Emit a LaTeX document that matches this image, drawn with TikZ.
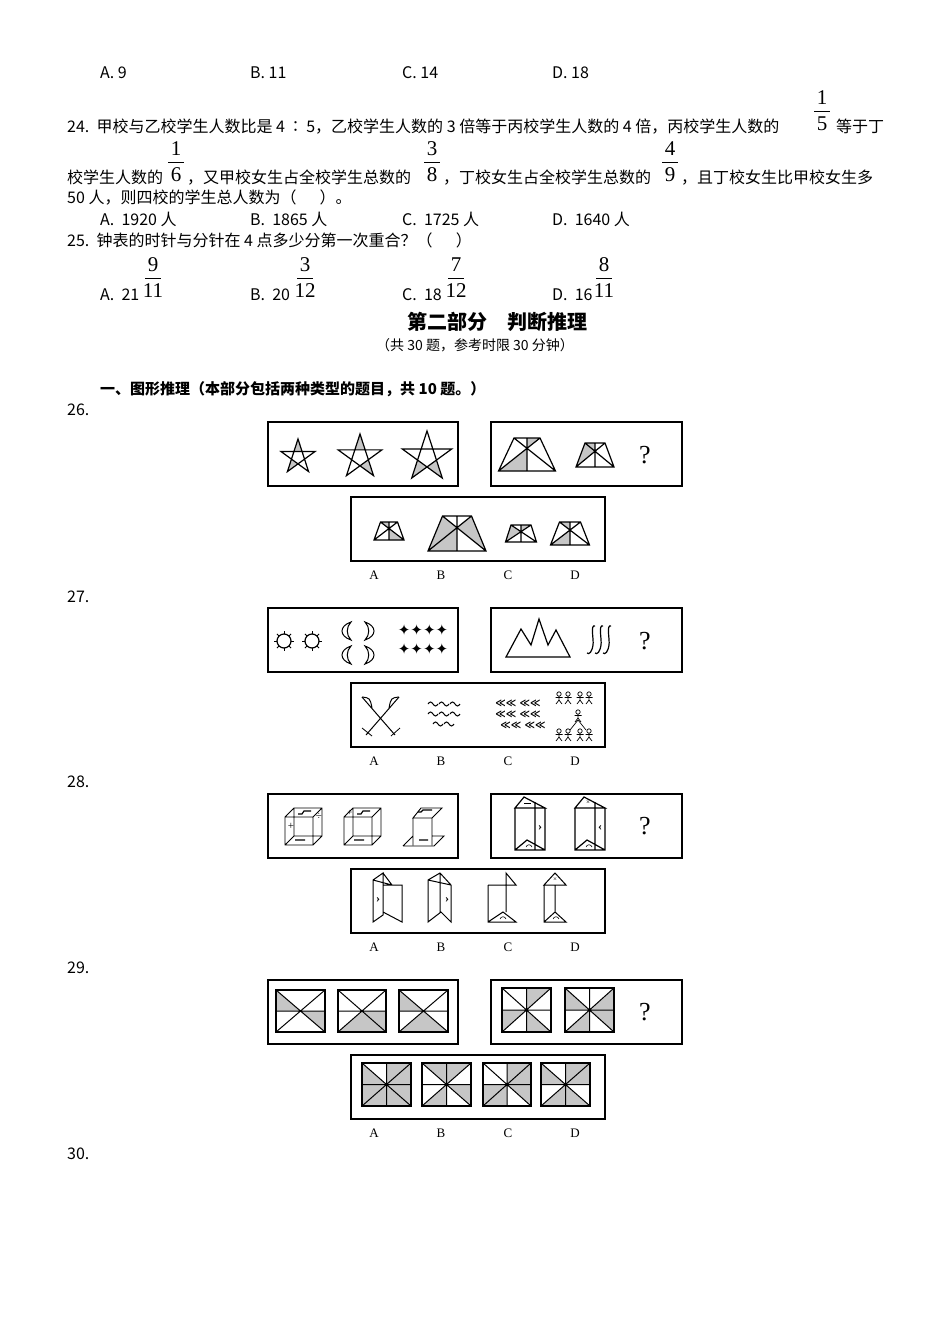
\documentclass[tikz,border=0pt]{standalone}
\usepackage{fontspec}
\usetikzlibrary{calc}
\setmainfont{Liberation Serif}
\newfontfamily\cjk{Noto Sans CJK SC}
\newfontfamily\dv{DejaVu Sans}
\begin{document}
\begin{tikzpicture}[x=1pt,y=-1pt,
 txt/.style={anchor=base west,inner sep=0,font=\cjk\fontsize{16}{17}\selectfont},
 fr/.style={inner sep=0,font=\fontsize{21}{22}\selectfont},
 box/.style={draw,line width=1.1pt},
 fig/.style={line width=1.2pt,line join=miter},
 shd/.style={fill=gray!45},
 lab/.style={inner sep=0,font=\fontsize{13}{14}\selectfont}]
\fill[white] (0,0) rectangle (950,1344);
\useasboundingbox (0,0) rectangle (950,1344);
\newcommand\frc[4]{\node[fr] at (#1,#2-29) {#3};\draw[line width=0.7pt] (#1-8,#2-16)--(#1+8,#2-16);\node[fr] at (#1,#2-3) {#4};}
\newcommand\arcm[2]{\draw[line width=0.6pt] (#1-3,#2+1) .. controls (#1-2,#2-2) and (#1+2,#2-2) .. (#1+3,#2+1);}
% header options
\node[txt] (a0) at (100,78) {A.\ 9};
\node[txt] (b0) at (250,78) {B.\ 11};
\node[txt] (c0) at (402,78) {C.\ 14};
\node[txt] (d0) at (552,78) {D.\ 18};
% Q24
\node[txt] (q24a) at (67,132) {24.\ \ 甲校与乙校学生人数比是\ 4\,∶\,5，乙校学生人数的\ 3\ 倍等于丙校学生人数的\ 4\ 倍，丙校学生人数的};
\frc{822}{127}{1}{5}
\node[txt] (q24b) at (836,132) {等于丁};
\node[txt] (q24c) at (67,183) {校学生人数的};
\frc{176}{178}{1}{6}
\node[txt] (q24d) at (187,183) {，又甲校女生占全校学生总数的};
\frc{432}{178}{3}{8}
\node[txt] (q24e) at (443,183) {，丁校女生占全校学生总数的};
\frc{670}{178}{4}{9}
\node[txt] (q24f) at (681,183) {，且丁校女生比甲校女生多};
\node[txt] (q24g) at (67,203) {50 人，则四校的学生总人数为（\quad\ \ ）。};
\node[txt] (a24) at (100,225) {A.\ \ 1920 人};
\node[txt] (b24) at (250,225) {B.\ \ 1865 人};
\node[txt] (c24) at (402,225) {C.\ \ 1725 人};
\node[txt] (d24) at (552,225) {D.\ \ 1640 人};
\node[txt] (q25) at (67,246) {25.\ \ 钟表的时针与分针在 4 点多少分第一次重合？（\quad\ \ ）};
\node[txt] (a25) at (100,300) {A.\ \ 21};
\frc{153}{294}{9}{11}
\node[txt] (b25) at (250,300) {B.\ \ 20};
\frc{305}{294}{3}{12}
\node[txt] (c25) at (402,300) {C.\ \ 18};
\frc{456}{294}{7}{12}
\node[txt] (d25) at (552,300) {D.\ \ 16};
\frc{604}{294}{8}{11}
\node[inner sep=0,font=\cjk\bfseries\fontsize{20}{22}\selectfont] (title) at (497,322) {第二部分\quad 判断推理};
\node[inner sep=0,font=\cjk\fontsize{14}{15}\selectfont] (sub) at (475,345) {（共 30 题，参考时限 30 分钟）};
\node[txt,font=\cjk\bfseries\fontsize{15}{16}\selectfont] (sec) at (100,394) {一、图形推理（本部分包括两种类型的题目，共 10 题。）};
\foreach \n/\y in {26/415,27/602,28/787,29/973,30/1159} \node[txt] (q\n) at (67,\y) {\n.};
% boxes and labels
\foreach \d [count=\i] in {0,186,372,558}{
 \draw[box] (268,422+\d) rectangle (458,486+\d);
 \draw[box] (491,422+\d) rectangle (682,486+\d);
 \draw[box] (351,497+\d) rectangle (605,561+\d);
 \foreach \L/\x in {A/374,B/441,C/508,D/575} \node[lab] (l\i\L) at (\x,575+\d) {\L};
}
\foreach \y in {455,641,826,1012} \node[inner sep=0,font=\fontsize{26}{28}\selectfont] at (645,\y) {?};
% ---- Q26
\newcommand\starfig[4]{\begin{scope}[shift={(#1,#2)}]
 \foreach \k in {#4}{\fill[shd] ({-90+72*\k}:#3) -- ({-90+72*\k+36}:0.382*#3) -- ({-90+72*\k-36}:0.382*#3) -- cycle;}
 \draw[fig] (-90:#3)--(54:#3)--(198:#3)--(-18:#3)--(126:#3)--cycle;\end{scope}}
\starfig{298}{457}{18}{0,3}
\starfig{360}{457}{23}{0,2}
\starfig{427}{457}{26}{3,2}
\newcommand\trapfig[6]{\begin{scope}[shift={(#1,#2)}]
 \coordinate (bl) at (-#3/2,0);\coordinate (br) at (#3/2,0);
 \coordinate (tl) at (-#4/2,-#5);\coordinate (tr) at (#4/2,-#5);
 \coordinate (tm) at (0,-#5);\coordinate (bm) at (0,0);
 \coordinate (xx) at (0,{-#5*#3/(#3+#4)});
 \fill[shd] #6;
 \draw[fig] (bl)--(br)--(tr)--(tl)--cycle (bl)--(tr) (br)--(tl) (tm)--(bm);\end{scope}}
\trapfig{527}{471}{57}{26}{33}{(bl)--(xx)--(bm)--cycle (tm)--(xx)--(tr)--cycle}
\trapfig{595}{467}{38}{20}{24}{(bl)--(xx)--(tl)--cycle (tm)--(xx)--(tl)--cycle}
\trapfig{389}{540}{30}{17}{18}{(tm)--(xx)--(tl)--cycle (br)--(xx)--(bm)--cycle}
\trapfig{457}{551}{58}{29}{35}{(bl)--(xx)--(tl)--cycle (bl)--(xx)--(bm)--cycle (br)--(xx)--(tr)--cycle}
\trapfig{521}{542}{31}{20}{17}{(bl)--(xx)--(tl)--cycle (tm)--(xx)--(tr)--cycle}
\trapfig{570}{545}{39}{21}{23}{(bl)--(xx)--(bm)--cycle (tm)--(xx)--(tl)--cycle}
% ---- Q27
\foreach \cx in {284,312}{\draw[fig] (\cx,641) circle (7);
 \foreach \a in {0,45,...,315} \draw[line width=0.8pt] ($(\cx,641)+(\a:7)$)--($(\cx,641)+(\a:10)$);}
\newcommand\cres[3]{\draw[line width=1pt,fill=white] (#1,#2-9) .. controls (#1-#3*12,#2-5) and (#1-#3*12,#2+5) .. (#1,#2+9) .. controls (#1-#3*5,#2+4) and (#1-#3*5,#2-4) .. cycle;}
\cres{351}{631}{1}\cres{365}{631}{-1}\cres{351}{655}{1}\cres{365}{655}{-1}
\node[inner sep=0,font=\dv\fontsize{15}{15}\selectfont] at (423,630) {✦✦✦✦};
\node[inner sep=0,font=\dv\fontsize{15}{15}\selectfont] at (423,649) {✦✦✦✦};
\draw[fig] (506,657)--(521,629)--(531,645)--(539,619)--(548,645)--(556,630)--(570,657)--cycle;
\foreach \x in {590,598,606} \draw[line width=1.2pt] (\x+5,626) .. controls (\x,624) and (\x+4,640) .. (\x+3,645) .. controls (\x+2,652) and (\x-1,655) .. (\x-3,653);
% swords
\draw[line width=1pt] (362,697)--(395,735) (399,697)--(366,735);
\draw[line width=1pt] (362,697)..controls(370,698)..(372,708) (399,697)..controls(391,698)..(389,708);
\draw[line width=0.8pt] (362,728)--(372,736) (391,736)--(400,728);
\newcommand\wv[2]{\draw[line width=1pt] (#1,#2) sin ++(2.5,-2) cos ++(2.5,2) sin ++(2.5,2) cos ++(2.5,-2);}
\foreach \x in {428,439,450}{\wv{\x}{704}\wv{\x}{714}}
\foreach \x in {433,444}{\wv{\x}{724}}
\node[inner sep=0,font=\dv\bfseries\fontsize{10}{10}\selectfont,align=center] at (518,714) {≪≪\,\,≪≪\\[1pt]≪≪\,\,≪≪\\[1pt]\quad≪≪\,\,≪≪};
\newcommand\man[2]{\draw[line width=0.7pt] (#1,#2-4) circle (2.2) (#1,#2-1.8)--(#1,#2+2) (#1-3.5,#2-0.5)--(#1+3.5,#2-0.5) (#1-3,#2+6)--(#1,#2+2)--(#1+3,#2+6);}
\foreach \x in {559,568,580,589}{\man{\x}{698}\man{\x}{735}}
\man{578}{716}
\draw[line width=0.7pt] (578,720)--(570,730) (578,720)--(586,730);
% ---- Q28
\newcommand\cube[2]{\draw[line width=0.9pt] (#1,#2) rectangle (#1+28,#2+28) (#1+9,#2-9) rectangle (#1+37,#2+19)
 (#1,#2)--(#1+9,#2-9) (#1+28,#2)--(#1+37,#2-9) (#1,#2+28)--(#1+9,#2+19) (#1+28,#2+28)--(#1+37,#2+19);
 \draw[line width=1.2pt] (#1+13,#2-3)--(#1+17,#2-3)--(#1+19,#2-6)--(#1+26,#2-6) (#1+10,#2+23)--(#1+20,#2+23);}
\cube{285}{817}
\node[inner sep=0,font=\fontsize{11}{11}\selectfont] at (291,826) {+};\node[inner sep=0,font=\fontsize{11}{11}\selectfont] at (319,816) {÷};
\cube{344}{817}
\node[inner sep=0,font=\fontsize{9}{9}\selectfont] at (350,813) {+};
\draw[line width=0.9pt] (413,818)--(421,808)--(442,808)--(432,818)--cycle (413,818)--(413,845) (432,818)--(432,845) (403,846)--(413,836) (432,836)--(444,836)--(434,846)--(403,846);
\draw[line width=1.2pt] (418,812)--(421,812)--(423,810)--(432,810) (419,840)--(428,840);
\newcommand\prism[2]{\draw[line width=1.2pt] (#1,808)--(#1+9,797)--(#1+30,808)--cycle (#1,808)--(#1,850)--(#1+30,850)--(#1+30,808) (#1+20,802)--(#1+20,850) (#1,850)--(#1+12,840)--(#1+30,850);
 \node[inner sep=0,font=\fontsize{12}{12}\selectfont\bfseries] at (#1+25,828) {#2};\arcm{#1+14}{846}}
\prism{515}{›}
\draw[line width=0.8pt] (524,803)--(531,803);
\prism{575}{‹}
\node[inner sep=0,font=\fontsize{7}{7}\selectfont] at (588,803) {×};
% bottom fold options
\draw[line width=1pt] (373,880)--(383,873)--(383,915)--(373,922)--cycle (373,880)--(392,885) (383,873)--(392,885) (383,885)--(402,885)--(402,922)--(383,912);
\node[inner sep=0,font=\fontsize{12}{12}\selectfont\bfseries] at (378,900) {›};
\draw[line width=1pt] (428,880)--(440,873)--(451,885)--(451,922)--(441,912)--(428,922)--cycle (440,873)--(440,912) (428,880)--(451,885);
\node[inner sep=0,font=\fontsize{12}{12}\selectfont\bfseries] at (447,900) {›};
\draw[line width=1pt] (488,885)--(506,885)--(506,873)--(516,885)--(506,885) (488,885)--(488,922)--(516,922)--(503,912)--(488,922) (506,885)--(506,912);
\draw[line width=1pt] (544,885)--(555,873)--(566,885)--cycle (544,885)--(544,922)--(566,922)--(555,912)--(544,922) (555,885)--(555,912);
\node[inner sep=0,font=\fontsize{7}{7}\selectfont] at (555,880) {×};
\arcm{503}{918}
\arcm{556}{918}
% ---- Q29
\newcommand\sqfig[6]{\begin{scope}
 \coordinate (TL) at (#1,#2);\coordinate (TR) at (#3,#2);\coordinate (BR) at (#3,#4);\coordinate (BL) at (#1,#4);
 \coordinate (c) at ({(#1+#3)/2},{(#2+#4)/2});\coordinate (T) at ({(#1+#3)/2},#2);\coordinate (B) at ({(#1+#3)/2},#4);
 \coordinate (L) at (#1,{(#2+#4)/2});\coordinate (R) at (#3,{(#2+#4)/2});
 \fill[shd] #5;
 \draw[line width=1pt] (TL)--(BR) (TR)--(BL) (L)--(R) #6;
 \draw[line width=1.8pt] (TL) rectangle (BR);\end{scope}}
\sqfig{276}{990}{325}{1032}{(c)--(L)--(TL)--cycle (c)--(R)--(BR)--cycle}{}
\sqfig{338}{990}{386}{1032}{(c)--(BL)--(BR)--cycle (c)--(R)--(BR)--cycle}{}
\sqfig{399}{990}{448}{1032}{(c)--(L)--(TL)--cycle (c)--(BL)--(BR)--cycle}{}
\sqfig{502}{988}{551}{1032}{(c)--(T)--(TR)--cycle (c)--(L)--(BL)--cycle (c)--(B)--(BR)--cycle}{(T)--(B)}
\sqfig{565}{988}{614}{1032}{(c)--(L)--(TL)--cycle (c)--(R)--(TR)--cycle (c)--(B)--(BL)--cycle (c)--(R)--(BR)--cycle}{(T)--(B)}
\sqfig{362}{1063}{411}{1106}{(c)--(L)--(TL)--cycle (c)--(L)--(BL)--cycle (c)--(T)--(TR)--cycle (c)--(R)--(TR)--cycle (c)--(R)--(BR)--cycle (c)--(B)--(BL)--cycle (c)--(B)--(BR)--cycle}{(T)--(B)}
\sqfig{422}{1063}{471}{1106}{(c)--(T)--(TL)--cycle (c)--(T)--(TR)--cycle (c)--(B)--(BL)--cycle (c)--(R)--(BR)--cycle}{(T)--(B)}
\sqfig{483}{1063}{531}{1106}{(c)--(T)--(TR)--cycle (c)--(R)--(TR)--cycle (c)--(L)--(BL)--cycle (c)--(B)--(BL)--cycle (c)--(R)--(BR)--cycle}{(T)--(B)}
\sqfig{541}{1063}{590}{1106}{(c)--(T)--(TR)--cycle (c)--(L)--(TL)--cycle (c)--(B)--(BL)--cycle (c)--(B)--(BR)--cycle (c)--(R)--(TR)--cycle}{(T)--(B)}
\end{tikzpicture}
\end{document}
